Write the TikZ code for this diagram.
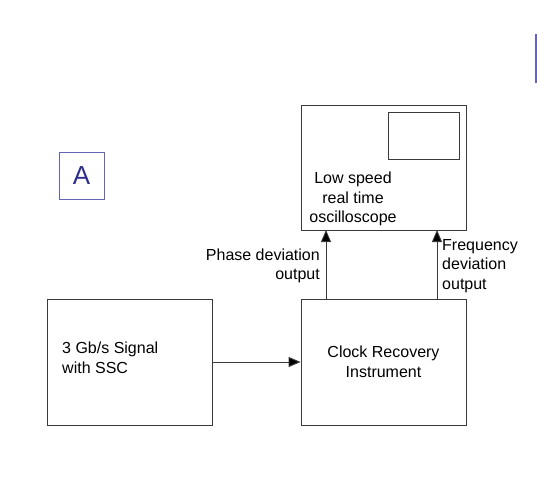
\documentclass[tikz,border=0pt]{standalone}
\usepackage{fontspec}
\setmainfont{Liberation Sans}
\usepackage{xcolor}
\usepackage{tikz}
\usetikzlibrary{arrows.meta}

\definecolor{boxline}{HTML}{3A3A3A}
\definecolor{tagblue}{HTML}{6464B4}
\definecolor{tagtext}{HTML}{2E2E8C}

\tikzset{
  box/.style={draw=boxline, line width=0.9pt, inner sep=0pt},
  lbl/.style={font=\fontsize{16}{19.5}\selectfont, inner sep=0pt},
  sig/.style={draw=boxline, line width=0.9pt, -{Triangle[length=12pt,width=10pt,fill=black]}}
}

\begin{document}
\begin{tikzpicture}[x=1pt,y=-1pt]
\useasboundingbox (0,0) rectangle (537,481);

    % oscilloscope with its screen
    \node[box, minimum width=165, minimum height=125] (scope) at (383.5,167.5) {};
    \node[box, minimum width=71, minimum height=47] (screen) at (423.5,135.5) {};
    \node[lbl, align=center] (scopetxt) at (353,199) {Low speed\\real time\\oscilloscope};

    % clock recovery and signal source
    \node[box, lbl, align=center, minimum width=165, minimum height=126] (cru) at (383.5,362)
        {Clock Recovery\\Instrument};
    \node[box, minimum width=165, minimum height=126] (src) at (129.5,362) {};
    \node[lbl, align=left, anchor=west] (srctxt) at (62,358) {3 Gb/s Signal\\with SSC};

    % outputs to the scope
    \coordinate (phin) at (326,230);
    \coordinate (frin) at (437,230);
    \draw[sig] (src.east) -- (cru.west);
    \draw[sig] (cru.north -| phin) -- (phin);
    \draw[sig] (cru.north -| frin) -- (frin);
    \node[lbl, align=right, anchor=east] (phtxt) at (320,266) {Phase deviation\\output};
    \node[lbl, align=left, anchor=west] (frtxt) at (442,266) {Frequency\\deviation\\output};

    % slide tag
    \node[draw=tagblue, line width=0.9pt, minimum width=45, minimum height=47,
        text=tagtext, font=\fontsize{26}{26}\selectfont] (tag) at (81.5,175.5) {A};
    \draw[tagblue, line width=2pt] (536,34) -- (536,83);

\end{tikzpicture}
\end{document}
